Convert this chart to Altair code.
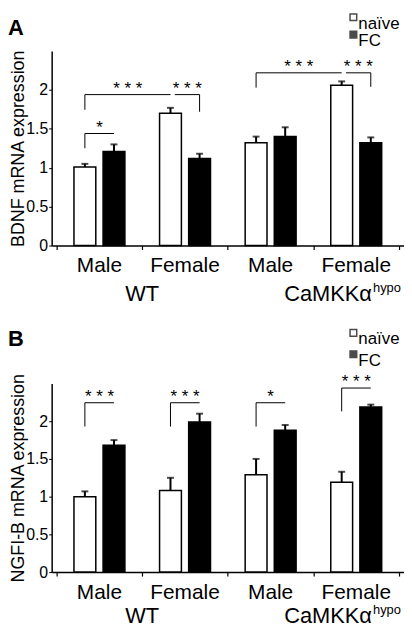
import altair as alt
import pandas as pd

FONT = "Liberation Sans"

# ---- categories / labels ----
sexes = ["Male", "Female", "Male", "Female"]
genotype_labels = ["WT", "CaMKKα"]
genotype_superscripts = ["", "hypo"]
conditions = ["naïve", "FC"]
condition_colors = ["white", "black"]
panel_letters = ["A", "B"]
y_titles = ["BDNF mRNA expression", "NGFI-B mRNA expression"]

# ---- panel A: BDNF ----
bdnf_naive = [1.01, 1.70, 1.32, 2.06]
bdnf_naive_sem = [0.04, 0.07, 0.08, 0.05]
bdnf_fc = [1.21, 1.12, 1.40, 1.32]
bdnf_fc_sem = [0.09, 0.06, 0.12, 0.07]

# ---- panel B: NGFI-B ----
ngfib_naive = [1.00, 1.08, 1.29, 1.19]
ngfib_naive_sem = [0.07, 0.17, 0.21, 0.14]
ngfib_fc = [1.68, 1.99, 1.88, 2.19]
ngfib_fc_sem = [0.07, 0.11, 0.07, 0.03]

# significance brackets: (from group, from condition, to group, to condition,
#                         bracket level, leg end value, leg side, label)
bdnf_brackets = [
    (0, "naïve", 0, "FC", 1.44, 1.25, "left", "*"),
    (0, "naïve", 1, "naïve", 1.94, 1.745, "left", "* * *"),
    (1, "naïve", 1, "FC", 1.94, 1.72, "right", "* * *"),
    (2, "naïve", 3, "naïve", 2.22, 2.03, "left", "* * *"),
    (3, "naïve", 3, "FC", 2.22, 2.04, "right", "* * *"),
]
ngfib_brackets = [
    (0, "naïve", 0, "FC", 2.245, 1.93, "left", "* * *"),
    (1, "naïve", 1, "FC", 2.245, 1.93, "left", "* * *"),
    (2, "naïve", 2, "FC", 2.245, 1.93, "left", "*"),
    (3, "naïve", 3, "FC", 2.44, 2.13, "left", "* * *"),
]

COND_POS = {"naïve": 0.33, "FC": 0.67}
BAR_W = 22
PLOT_W = 355


def bar_frame(naive, naive_sem, fc, fc_sem):
    rows = []
    for i, sex in enumerate(sexes):
        for cond, vals, sems in (("naïve", naive, naive_sem), ("FC", fc, fc_sem)):
            rows.append({"group": i, "sex": sex, "cond": cond,
                         "pos": i + COND_POS[cond],
                         "value": vals[i], "top": vals[i] + sems[i]})
    return pd.DataFrame(rows)


def bracket_frame(brackets):
    rows = []
    for g1, c1, g2, c2, level, leg_end, side, label in brackets:
        x1 = g1 + COND_POS[c1]
        x2 = g2 + COND_POS[c2]
        if side == "right":
            x1 += 0.05
        leg_x = x1 if side == "left" else x2
        rows.append({"x1": x1, "x2": x2, "level": level, "leg_x": leg_x,
                     "leg_end": leg_end, "label": label, "mid": (x1 + x2) / 2})
    return pd.DataFrame(rows)


def legend_layers(sym_y, text_y):
    layers = []
    for k, cond in enumerate(conditions):
        d = pd.DataFrame({"cond": [cond]})
        layers.append(alt.Chart(d).mark_square(
            size=45, filled=True, stroke="black", strokeWidth=1.5).encode(
            x=alt.value(304), y=alt.value(sym_y[k]),
            fill=alt.value(condition_colors[k])))
        layers.append(alt.Chart(d).mark_text(
            fontSize=17, font=FONT, color="black", align="left",
            baseline="alphabetic").encode(
            x=alt.value(309), y=alt.value(text_y[k]), text="cond:N"))
    return layers


def panel(idx, naive, naive_sem, fc, fc_sem, brackets, height,
          sym_y, text_y, letter_y, geno_y):
    bars = bar_frame(naive, naive_sem, fc, fc_sem)
    br = bracket_frame(brackets)
    xs = alt.Scale(domain=[0, 4], nice=False, zero=False)
    ys = alt.Scale(domain=[0, 2.5], nice=False)

    x_axis = alt.Axis(values=[0, 1, 2, 3, 4], labels=False, title="",
                      tickSize=4, tickColor="black", tickWidth=1.2,
                      domainColor="black", domainWidth=1.5, grid=False)
    y_axis = alt.Axis(values=[0, 0.5, 1, 1.5, 2], format="~g",
                      title=y_titles[idx], titleFontSize=18,
                      titleFontWeight="normal", titleColor="black",
                      titleFont=FONT, titlePadding=-2,
                      labelFontSize=16, labelColor="black", labelFont=FONT,
                      labelPadding=1, tickSize=3, tickColor="black",
                      domainColor="black", domainWidth=1.5, grid=False)

    def X(field):
        return alt.X(field, scale=xs, axis=x_axis)

    def Y(field):
        return alt.Y(field, scale=ys, axis=y_axis)

    base = alt.Chart(bars)
    bar_layer = base.mark_bar(size=BAR_W, stroke="black", strokeWidth=1.5,
                              orient="vertical").encode(
        x=X("pos:Q"),
        y=alt.Y("value:Q", scale=ys, stack=None, axis=y_axis),
        fill=alt.Fill("cond:N",
                      scale=alt.Scale(domain=conditions, range=condition_colors),
                      legend=None),
    )
    stems = base.mark_rule(color="black", strokeWidth=2).encode(
        x=X("pos:Q"), y=Y("value:Q"), y2="top:Q",
    )
    caps = base.mark_tick(color="black", orient="horizontal", size=7,
                          thickness=2).encode(
        x=X("pos:Q"), y=Y("top:Q"),
    )

    bbase = alt.Chart(br)
    br_h = bbase.mark_rule(color="black", strokeWidth=1).encode(
        x=X("x1:Q"), x2="x2:Q", y=Y("level:Q"),
    )
    br_v = bbase.mark_rule(color="black", strokeWidth=1).encode(
        x=X("leg_x:Q"), y=Y("level:Q"), y2="leg_end:Q",
    )
    br_t = bbase.mark_text(fontSize=17, font=FONT, color="black",
                           baseline="alphabetic", dy=-1).encode(
        x=X("mid:Q"), y=Y("level:Q"), text="label:N",
    )

    xl = pd.DataFrame({"center": [i + 0.5 for i in range(len(sexes))],
                       "sex": sexes})
    x_labels = alt.Chart(xl).mark_text(fontSize=21, font=FONT, color="black",
                                       baseline="alphabetic").encode(
        x=X("center:Q"), y=alt.value(height + 27), text="sex:N",
    )

    gl = pd.DataFrame({"center": [1.0, 3.0], "label": genotype_labels,
                       "sup": genotype_superscripts})
    geno_wt = alt.Chart(gl.iloc[[0]]).mark_text(
        fontSize=22, font=FONT, color="black", baseline="alphabetic").encode(
        x=X("center:Q"), y=alt.value(height + geno_y), text="label:N")
    geno_ca = alt.Chart(gl.iloc[[1]]).mark_text(
        fontSize=22, font=FONT, color="black", baseline="alphabetic",
        align="right", dx=59).encode(
        x=X("center:Q"), y=alt.value(height + geno_y), text="label:N")
    geno_sup = alt.Chart(gl.iloc[[1]]).mark_text(
        fontSize=13, font=FONT, color="black", baseline="alphabetic",
        align="left", dx=60).encode(
        x=X("center:Q"), y=alt.value(height + geno_y - 9), text="sup:N")

    letter = alt.Chart(pd.DataFrame({"letter": [panel_letters[idx]]})).mark_text(
        fontSize=22, fontWeight="bold", font=FONT, color="black",
        align="left", baseline="alphabetic").encode(
        x=alt.value(-44), y=alt.value(letter_y), text="letter:N")

    return alt.layer(bar_layer, stems, caps, br_h, br_v, br_t, x_labels,
                     geno_wt, geno_ca, geno_sup, letter,
                     *legend_layers(sym_y, text_y)).properties(
        width=PLOT_W, height=height)


panel_a = panel(0, bdnf_naive, bdnf_naive_sem, bdnf_fc, bdnf_fc_sem,
                bdnf_brackets, 196, [-34, -16.5], [-22.5, -5], -16, 56)
panel_b = panel(1, ngfib_naive, ngfib_naive_sem, ngfib_fc, ngfib_fc_sem,
                ngfib_brackets, 190, [-51, -29.5], [-40, -18], -38, 51)

chart = alt.vconcat(panel_a, panel_b, spacing=21).properties(
    padding=0
).configure(font=FONT).configure_view(stroke=None)

chart.save("out.html", embed_options={"renderer": "svg", "actions": False})
